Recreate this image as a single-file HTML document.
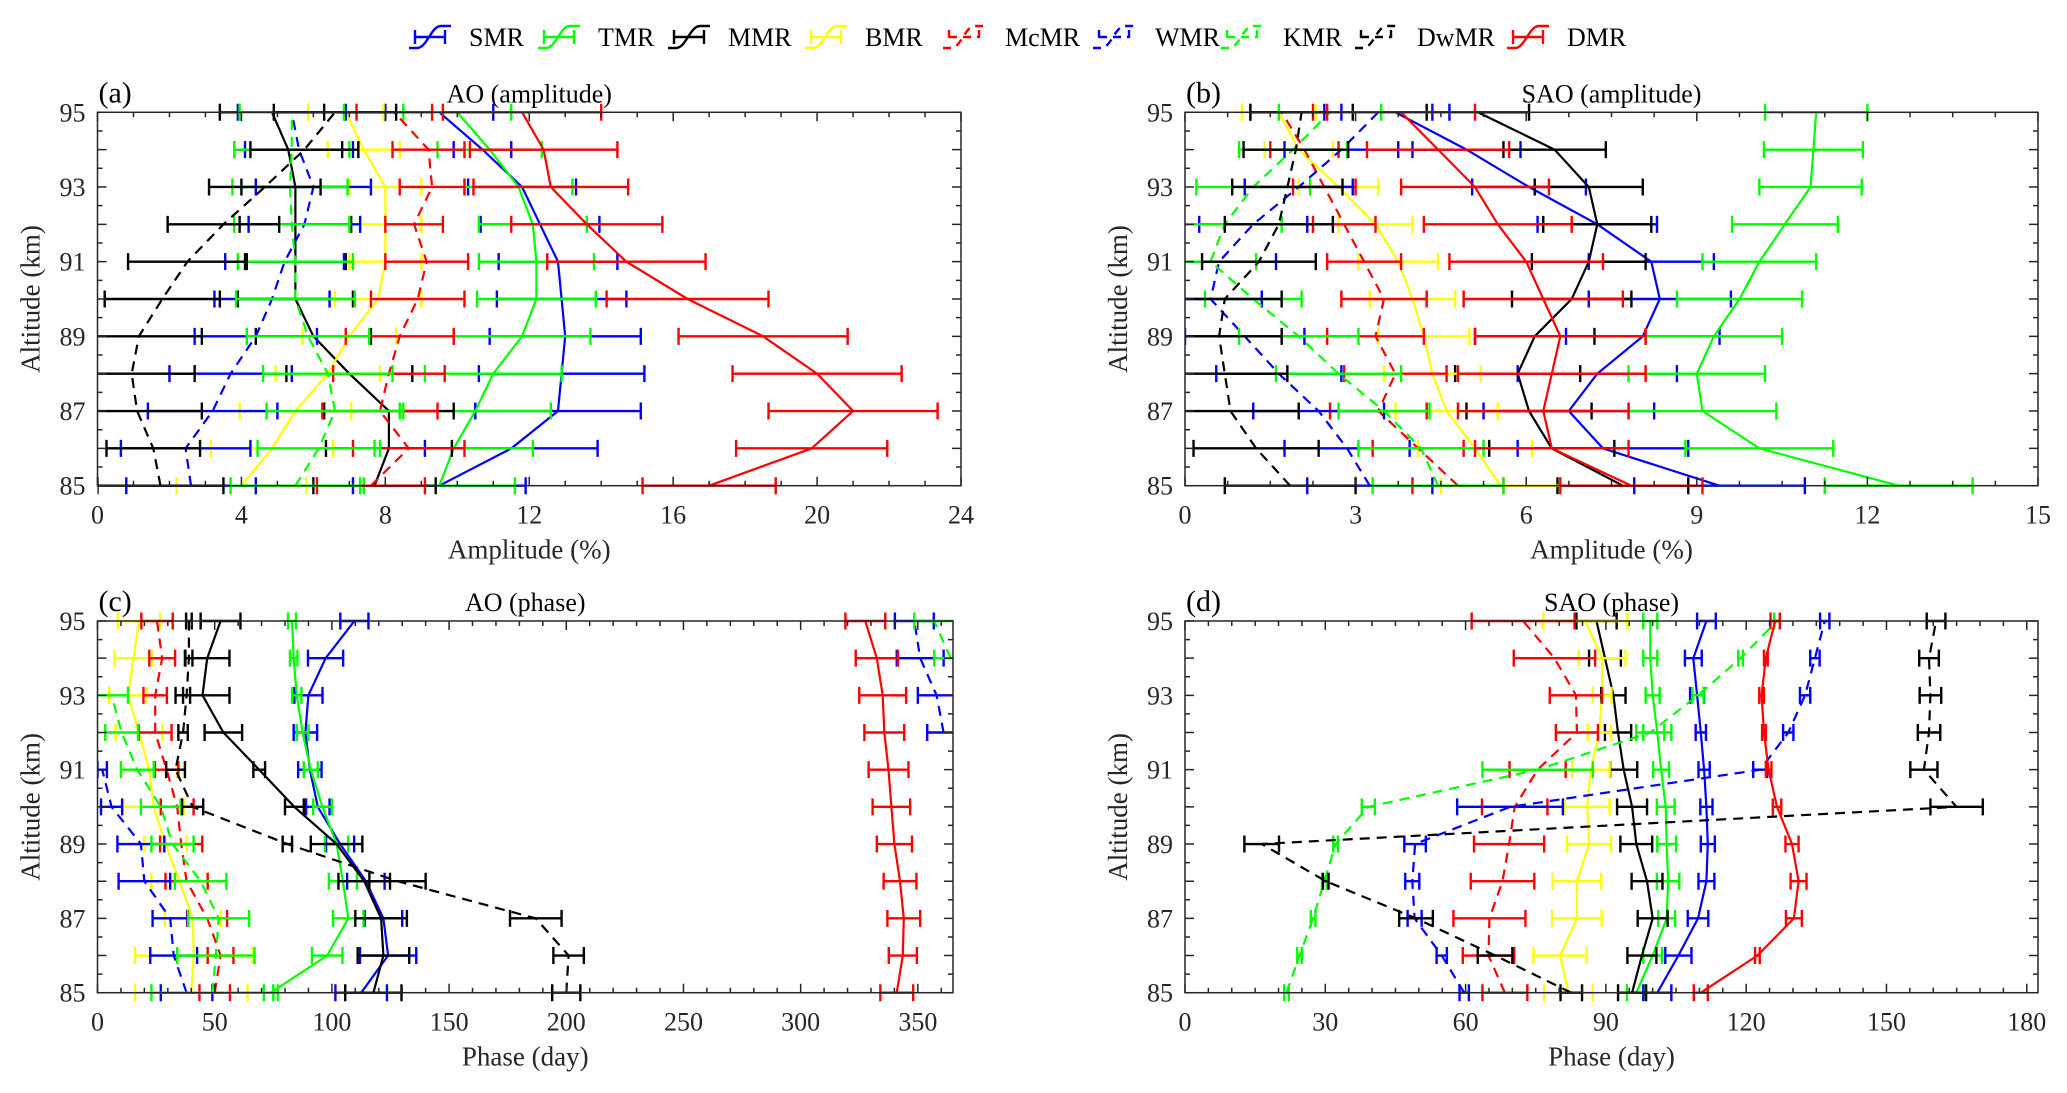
<!DOCTYPE html>
<html><head><meta charset="utf-8"><style>
html,body{margin:0;padding:0;background:#fff;}
svg{display:block;font-family:"Liberation Serif",serif;}
svg text{font-family:"Liberation Serif",serif;}
</style></head><body>
<svg id="fig" width="2067" height="1093" viewBox="0 0 2067 1093" xmlns="http://www.w3.org/2000/svg" font-family="Liberation Serif, serif">
<rect x="0" y="0" width="2067" height="1093" fill="#fff"/>
<g id="legend"></g>
</svg>
<script>
const altitudes = [85,86,87,88,89,90,91,92,93,94,95];
const seriesNames = ['SMR','TMR','MMR','BMR','McMR','WMR','KMR','DwMR','DMR'];
// Panel (a) AO amplitude (%)
const aSMR=[9.5,11.5,12.8,12.9,13.0,12.9,12.8,12.3,11.8,10.7,9.5];
const aSMRe=[2.4,2.4,2.3,2.3,2.1,1.8,1.65,1.65,1.5,0.8,1.5];
const aTMR=[9.5,9.9,10.5,11.0,11.8,12.2,12.2,12.1,11.7,10.9,10.0];
const aTMRe=[2.1,2.2,2.1,1.9,1.9,1.65,1.6,1.5,1.5,1.45,1.5];
const aMMR=[7.7,8.1,8.1,7.0,6.0,5.5,5.5,5.5,5.5,5.3,4.85];
const aMMRe=[1.7,1.75,1.8,1.75,1.6,1.6,1.4,1.55,1.5,1.5,1.45];
const aBMR=[4.0,4.85,5.5,6.4,7.0,7.8,8.0,8.0,8.0,7.4,6.9];
const aBMRe=[1.8,1.7,1.55,1.45,1.3,1.2,1.0,1.0,1.0,1.0,1.05];
const aMcMR=[7.6,8.65,7.85,8.1,8.4,8.9,9.15,8.8,9.3,9.2,8.25];
const aMcMRe=[1.5,1.55,1.6,1.55,1.5,1.3,1.15,0.8,0.9,1.0,1.05];
const aWMR=[2.6,2.45,3.2,3.7,4.4,4.85,5.2,5.75,6.0,5.6,5.4];
const aWMRe=[1.8,1.8,1.8,1.7,1.7,1.6,1.65,1.55,1.6,1.5,1.5];
const aKMR=[5.5,6.15,6.6,6.4,5.85,5.5,5.5,5.4,5.35,5.4,5.4];
const aKMRe=[1.8,1.7,1.9,1.8,1.7,1.65,1.6,1.6,1.6,1.6,1.45];
const aDwMR=[1.75,1.55,1.1,0.95,1.15,1.8,2.5,3.5,4.65,5.75,6.6];
const aDwMRe=[1.75,1.3,1.8,1.75,1.75,1.6,1.65,1.55,1.55,1.5,1.7];
const aDMR=[17.0,19.85,21.0,20.0,18.5,16.4,14.7,13.6,12.6,12.4,11.8];
const aDMRe=[1.85,2.1,2.35,2.35,2.35,2.25,2.2,2.1,2.15,2.05,2.2];
// Panel (b) SAO amplitude (%)
const bSMR=[9.4,7.35,6.75,7.25,8.05,8.35,8.2,7.25,6.05,4.95,3.7];
const bSMRe=[1.5,1.5,1.5,1.4,1.35,1.25,1.1,1.05,1.0,0.95,0.95];
const bTMR=[12.55,10.1,9.1,9.0,9.3,9.75,10.1,10.55,11.0,11.05,11.1];
const bTMRe=[1.3,1.3,1.3,1.2,1.2,1.1,1.0,0.93,0.9,0.87,0.9];
const bMMR=[7.7,6.45,6.05,5.85,6.15,6.8,7.1,7.25,7.1,6.5,5.15];
const bMMRe=[1.15,1.1,1.1,1.1,1.05,1.05,1.0,0.95,0.95,0.9,0.9];
const bBMR=[5.55,5.1,4.6,4.35,4.2,4.0,3.75,3.35,2.7,2.0,1.65];
const bBMRe=[1.05,1.0,0.9,0.85,0.8,0.75,0.7,0.65,0.7,0.6,0.65];
const bMcMR=[4.8,4.1,3.4,3.7,3.35,3.5,3.15,2.8,2.45,2.1,1.7];
const bMcMRe=[0.8,0.8,0.85,0.9,0.85,0.75,0.65,0.55,0.55,0.6,0.55];
const bWMR=[3.25,2.85,2.35,1.65,1.05,0.45,0.6,1.2,2.0,2.75,3.4];
const bWMRe=[1.1,1.1,1.15,1.1,1.05,0.9,1.0,0.95,0.95,1.0,0.95];
const bKMR=[4.45,4.15,3.5,2.7,2.0,1.2,0.45,0.7,1.2,1.9,2.55];
const bKMRe=[1.15,1.1,0.8,1.1,1.05,0.85,0.8,1.0,1.0,0.95,0.9];
const bDwMR=[1.85,1.25,0.8,0.7,0.6,0.7,1.3,1.65,1.8,1.95,2.05];
const bDwMRe=[1.15,1.1,1.2,1.1,1.1,1.0,1.0,0.95,0.97,0.92,0.9];
const bDMR=[7.85,6.45,6.3,6.45,6.6,6.3,6.0,5.5,5.1,4.45,3.8];
const bDMRe=[1.25,1.35,1.5,1.65,1.5,1.4,1.35,1.3,1.3,1.25,1.3];
// Panel (c) AO phase (day)
const cSMR=[112.5,124,122,114.5,103.5,94,90.6,88.7,90,97.3,109.6];
const cSMRe=[11,12,8,8,6,5,5,5,6,7.5,6];
const cTMR=[74,98,107,104.7,102,96,91,87.5,85,83.7,83];
const cTMRe=[3,6.5,6.5,6,5,4,3,2.5,2,1.6,1.7];
const cMMR=[117.7,122,121,113.8,102,84,69,53.7,44.8,46.8,52.5];
const cMMRe=[12,11,11,11,11,4,2.5,8,11.5,9.5,8.5];
const cBMR=[40,41,40.7,35,29,24,22,17.7,13,15.3,17.7];
const cBMRe=[24,25,12,12,9,13,12,10,8,8,9];
const cMcMR=[50,52.5,46.8,38,35.7,34,29.5,24.6,24.6,27.6,25.4];
const cMcMRe=[6.5,5.5,8.5,9,9,7,5,7,5,5.5,6.7];
const cWMR=[38,32.5,31,20,18.5,6,2,361,358,351,348.5];
const cWMRe=[11,10,7.5,11,10,4.5,2,7,8,10,8.3];
const cKMR=[49,50.5,51.7,44,32,27,17,10.3,6,364,357];
const cKMRe=[26,16.5,13,11,9,8.5,7,7,7,7,8.5];
const cDwMR=[200,201,187,128,81,40.6,33.3,36.5,38,39,39];
const cDwMRe=[6,6.5,11,12,2,4.5,4,2,1.5,1.5,1.2];
const cDMR=[341,343.6,344,342.4,340,338.7,337.5,335.7,335,332.5,327.6];
const cDMRe=[7,6,7,7,7.5,8,8.5,8.5,10,9,8.5];
// Panel (d) SAO phase (day)
const dSMR=[101,105.5,109.7,111.5,111.8,111.5,111,110.3,109.5,108.7,111.5];
const dSMRe=[3,2.8,2.2,1.7,1.5,1.3,1.2,1.1,1.5,1.8,2];
const dTMR=[96.5,100,103,103.3,103,102.8,101.8,101,100,99.5,99.5];
const dTMRe=[2,2,1.8,2.4,2,1.9,1.7,3,1.5,1.5,1.5];
const dMMR=[95.6,97.7,100,98.8,96.5,95.6,93.8,92.6,91.6,89.8,88];
const dMMRe=[3,3.1,3.2,3.3,3.4,3.2,2.9,2.8,2.6,3.4,4.3];
const dBMR=[82,80.2,83.8,83.8,86.4,86,86.8,88.6,89.2,89.2,85.6];
const dBMRe=[5.2,5.7,5.3,5.2,4.7,4.8,4,2.5,2,5,9];
const dMcMR=[68.4,64.9,65.1,67.9,69.3,70.5,75.4,83.8,83.6,79,72.3];
const dMcMRe=[4.8,5.5,7.7,6.8,7.5,7,6,4.5,5.6,8.7,11];
const dWMR=[59.7,54.9,49.1,48.6,49.2,69.5,123,129,132.6,134.7,136.8];
const dWMRe=[1,1.1,1.5,1.5,2.3,11.3,1.5,1.1,1.1,1,1];
const dKMR=[21.7,24.5,27.4,29.8,32.2,39.2,75.4,99.5,109.7,118.8,126.6];
const dKMRe=[0.5,0.5,0.5,0.5,0.5,1.4,11.8,3,1.2,0.5,0.6];
const dDwMR=[82.6,66.3,49.4,30.1,16.4,165,158,159.1,159.4,159.1,160.6];
const dDwMRe=[2.3,3.7,3.6,0.6,3.7,5.6,2.9,2.4,2.3,2.1,2];
const dDMR=[110.3,122.4,130.2,131.2,129.8,126.6,124.8,123.8,123.3,124.2,126.2];
const dDMRe=[1.5,0.5,1.7,1.7,1.4,0.9,0.6,0.4,0.5,0.4,1];

const aTicks=[0,4,8,12,16,20,24];
const bTicks=[0,3,6,9,12,15];
const cTicks=[0,50,100,150,200,250,300,350];
const dTicks=[0,30,60,90,120,150,180];
const yTickLabels=[85,87,89,91,93,95];

const colors=['#0000ff','#00ff00','#000000','#ffff00','#ff0000','#0000ff','#00ff00','#000000','#ff0000'];
const dashedS=[false,false,false,false,true,true,true,true,false];
const NS='http://www.w3.org/2000/svg';
const FONT='Liberation Serif, serif';
const svg=document.getElementById('fig');
function mk(tag,attrs,parent){const e=document.createElementNS(NS,tag);for(const k in attrs)e.setAttribute(k,attrs[k]);if(tag==='text')e.setAttribute('font-family',FONT);(parent||svg).appendChild(e);return e;}

const panels=[
 {id:'a',L:97.5,R:961,T:112.3,B:485.7,xmin:0,xmax:24,ticks:aTicks,minor:1,title:'AO (amplitude)',xlabel:'Amplitude (%)',data:[[aSMR,aSMRe],[aTMR,aTMRe],[aMMR,aMMRe],[aBMR,aBMRe],[aMcMR,aMcMRe],[aWMR,aWMRe],[aKMR,aKMRe],[aDwMR,aDwMRe],[aDMR,aDMRe]],wrap:0},
 {id:'b',L:1185,R:2038,T:112.3,B:485.7,xmin:0,xmax:15,ticks:bTicks,minor:0.75,title:'SAO (amplitude)',xlabel:'Amplitude (%)',data:[[bSMR,bSMRe],[bTMR,bTMRe],[bMMR,bMMRe],[bBMR,bBMRe],[bMcMR,bMcMRe],[bWMR,bWMRe],[bKMR,bKMRe],[bDwMR,bDwMRe],[bDMR,bDMRe]],wrap:0},
 {id:'c',L:97.5,R:953,T:621,B:992.7,xmin:0,xmax:365,ticks:cTicks,minor:10,title:'AO (phase)',xlabel:'Phase (day)',data:[[cSMR,cSMRe],[cTMR,cTMRe],[cMMR,cMMRe],[cBMR,cBMRe],[cMcMR,cMcMRe],[cWMR,cWMRe],[cKMR,cKMRe],[cDwMR,cDwMRe],[cDMR,cDMRe]],wrap:180},
 {id:'d',L:1185,R:2038,T:621,B:992.7,xmin:0,xmax:182.4,ticks:dTicks,minor:5,title:'SAO (phase)',xlabel:'Phase (day)',data:[[dSMR,dSMRe],[dTMR,dTMRe],[dMMR,dMMRe],[dBMR,dBMRe],[dMcMR,dMcMRe],[dWMR,dWMRe],[dKMR,dKMRe],[dDwMR,dDwMRe],[dDMR,dDMRe]],wrap:0}
];

panels.forEach(p=>{
 const xs=v=>p.L+(v-p.xmin)/(p.xmax-p.xmin)*(p.R-p.L);
 const ys=h=>p.B-(h-85)/10*(p.B-p.T);
 const g=mk('g',{});
 
 
 const cp=mk('clipPath',{id:'clip'+p.id},g);
 mk('rect',{x:p.L,y:p.T-12,width:p.R-p.L,height:p.B-p.T+24},cp);
 const plot=mk('g',{'clip-path':'url(#clip'+p.id+')'},g);
 
 
 p.data.forEach((d,si)=>{
  const vals=d[0],errs=d[1];
  const sg=mk('g',{},plot);
  
  
  const col=colors[si];
  let segs=[],cur=[];
  vals.forEach((v,i)=>{
   if(i>0&&p.wrap&&Math.abs(v-vals[i-1])>p.wrap){segs.push(cur);cur=[];}
   cur.push([xs(v),ys(altitudes[i])]);
  });
  segs.push(cur);
  segs.forEach(s=>{
   if(s.length<2)return;
   const pl=mk('polyline',{points:s.map(q=>q[0].toFixed(1)+','+q[1].toFixed(1)).join(' '),fill:'none',stroke:col,'stroke-width':2.2},sg);
   if(dashedS[si])pl.setAttribute('stroke-dasharray','10,7');
   
   
  });
  vals.forEach((v,i)=>{
   const y=ys(altitudes[i]),x1=xs(v-errs[i]),x2=xs(v+errs[i]);
   const eb=mk('path',{d:`M${x1},${y}H${x2}M${x1},${y-8.5}V${y+8.5}M${x2},${y-8.5}V${y+8.5}`,stroke:col,'stroke-width':2.4,fill:'none'},sg);
   
   
  });
 });
 const box=mk('rect',{x:p.L,y:p.T,width:p.R-p.L,height:p.B-p.T,fill:'none',stroke:'#262626','stroke-width':1.5},g);
 
 
 let tp='';
 for(let v=p.xmin;v<=p.xmax+1e-6;v+=p.minor){
  const x=xs(v);const major=p.ticks.some(t=>Math.abs(t-v)<1e-6);const len=major?9:5;
  tp+=`M${x},${p.B}V${p.B-len}M${x},${p.T}V${p.T+len}`;
 }
 for(let h=85;h<=95;h+=0.5){
  const y=ys(h);const len=Number.isInteger(h)?9:5;
  tp+=`M${p.L},${y}H${p.L+len}M${p.R},${y}H${p.R-len}`;
 }
 const tk=mk('path',{d:tp,stroke:'#262626','stroke-width':1.5,fill:'none'},g);
 
 
 p.ticks.forEach(t=>{
  const tx=mk('text',{x:xs(t),y:p.B+38,'text-anchor':'middle','font-size':26,fill:'#262626'},g);
  tx.textContent=t;
  
  
 });
 yTickLabels.forEach(h=>{
  const tx=mk('text',{x:p.L-12,y:ys(h)+9,'text-anchor':'end','font-size':26,fill:'#262626'},g);
  tx.textContent=h;
  
  
 });
 const xl=mk('text',{x:(p.L+p.R)/2,y:p.B+73,'text-anchor':'middle','font-size':27,fill:'#262626'},g);
 xl.textContent=p.xlabel;
 
 
 const cy=(p.T+p.B)/2,cx=p.L-64;
 const yl=mk('text',{x:cx,y:cy,'text-anchor':'middle','font-size':27,fill:'#262626',transform:`rotate(-90 ${cx} ${cy})`,'dominant-baseline':'middle'},g);
 yl.textContent='Altitude (km)';
 
 
 const tt=mk('text',{x:(p.L+p.R)/2,y:p.T-10,'text-anchor':'middle','font-size':26,fill:'#000'},g);
 tt.textContent=p.title;
 
 
 const pl=mk('text',{x:p.L+1,y:p.T-10,'font-size':30,fill:'#000'},g);
 pl.textContent='('+p.id+')';
 
 
});

const legX=[409,538,668,805,943,1093,1221,1355,1507];
const lg=document.getElementById('legend');
seriesNames.forEach((n,i)=>{
 const x=legX[i],y=37;
 const e=mk('g',{},lg);
 
 
 const ic=mk('path',{d:`M${x},${y+11}H${x+8}C${x+18},${y+11} ${x+22},${y-11} ${x+32},${y-11}H${x+42}M${x+6},${y}H${x+36}M${x+6},${y-7}V${y+7}M${x+36},${y-7}V${y+7}`,stroke:colors[i],'stroke-width':2.4,fill:'none'},e);
 if(dashedS[i])ic.setAttribute('stroke-dasharray','8,6');
 
 
 const t=mk('text',{x:x+(dashedS[i]?62:60),y:y+9,'font-size':26,fill:'#000'},e);
 t.textContent=n;
 
 
});
</script>
</body></html>
